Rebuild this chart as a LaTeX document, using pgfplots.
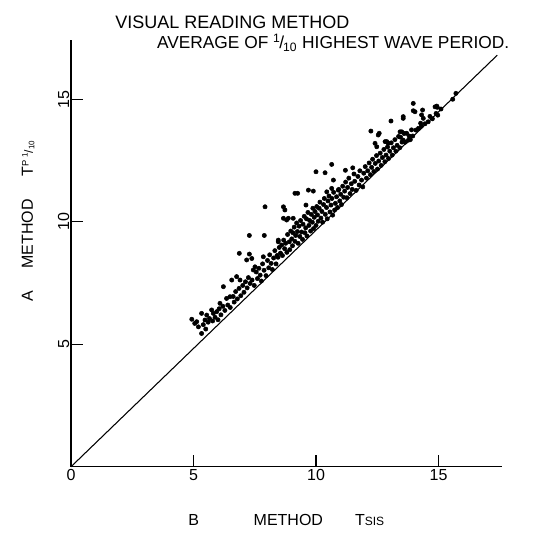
\documentclass[border=0pt]{standalone}
\usepackage{fontspec}
\setmainfont{Liberation Sans}
\usepackage{pgfplots}
\usepackage{pgfplotstable}
\pgfplotsset{compat=1.18}
\pgfplotstableread{
x y
4.93 6.02
5.05 5.85
5.13 5.92
5.20 5.71
5.33 5.44
5.33 6.26
5.40 5.80
5.47 5.99
5.54 6.19
5.50 5.62
5.60 5.90
5.65 6.05
5.74 6.40
5.78 5.95
5.81 6.26
5.88 6.10
5.95 6.33
6.00 6.00
6.05 6.45
6.08 6.67
6.12 6.20
6.20 6.55
6.22 7.35
6.28 6.38
6.35 6.87
6.40 6.60
6.49 6.94
6.50 6.50
6.56 7.62
6.62 6.95
6.66 6.72
6.72 7.15
6.76 7.76
6.79 6.85
6.86 7.28
6.90 7.62
6.93 6.98
7.01 7.40
7.06 7.12
7.12 7.55
7.17 8.44
7.19 7.30
7.24 7.72
7.31 7.48
7.38 8.50
7.39 7.62
7.44 8.03
7.48 7.40
7.51 8.16
7.56 7.95
7.61 7.68
7.67 8.10
7.72 7.82
7.77 7.58
7.85 8.57
7.82 8.28
7.88 8.02
7.96 7.80
8.02 8.42
8.07 8.12
8.11 8.65
8.17 8.30
8.22 8.05
8.27 8.52
8.32 8.82
8.37 8.28
8.41 8.62
6.87 8.71
7.28 8.68
7.28 9.44
7.89 9.44
7.92 10.61
8.46 9.18
8.46 9.25
8.67 10.14
8.67 10.61
8.73 10.48
8.80 10.07
9.14 11.16
9.25 11.16
9.59 10.68
9.69 11.29
9.89 11.25
10.00 12.04
10.37 12.00
10.64 12.34
10.71 11.70
10.44 11.22
10.64 11.36
10.91 11.29
11.20 12.10
11.50 12.20
8.45 8.55
8.50 8.95
8.55 8.72
8.60 9.05
8.63 8.62
8.68 9.25
8.72 8.90
8.76 9.12
8.81 8.75
8.84 9.48
8.87 10.14
8.91 9.18
8.93 8.86
8.97 9.62
9.01 9.30
9.04 9.02
9.07 10.14
9.06 9.55
9.11 9.78
9.14 9.20
9.17 9.44
9.21 9.95
9.24 9.60
9.27 9.12
9.31 9.82
9.34 9.40
9.37 10.05
9.41 9.58
9.45 9.28
9.47 9.90
9.52 10.22
9.55 9.55
9.58 9.75
9.61 10.12
9.63 9.42
9.67 10.38
9.71 9.85
9.74 10.05
9.78 9.62
9.81 10.30
9.85 9.98
9.87 10.55
9.90 9.72
9.93 10.18
9.96 10.42
10.00 9.85
10.03 10.62
10.06 10.28
10.09 10.02
10.13 10.55
10.16 10.80
10.20 10.15
10.24 10.42
10.27 9.98
10.31 10.70
10.34 10.95
10.38 10.30
10.43 10.58
10.46 10.12
10.49 10.85
10.53 11.05
10.57 10.40
10.61 10.68
10.65 10.95
10.68 10.27
10.72 11.20
10.76 10.48
10.79 10.75
10.84 11.02
10.88 10.58
10.93 11.32
10.97 10.85
11.01 11.12
11.04 10.70
11.09 11.45
11.13 11.00
11.17 11.25
11.21 11.62
11.26 10.98
11.29 11.40
11.34 11.78
11.39 11.15
11.44 11.55
11.48 11.32
11.55 11.95
11.58 11.65
11.64 11.28
11.71 11.85
11.76 11.50
11.79 12.08
11.86 11.70
11.91 11.42
11.95 11.98
12.01 12.25
12.06 11.78
12.11 12.08
12.17 12.40
12.22 11.92
12.27 12.22
12.31 12.55
12.36 12.05
12.42 12.38
12.47 12.70
12.51 12.15
12.56 12.48
12.62 12.80
12.66 12.30
12.71 12.62
12.77 12.95
12.81 12.45
12.86 12.72
12.92 13.05
12.96 12.58
13.01 12.88
13.07 13.22
13.11 12.72
13.16 13.02
13.22 13.35
13.26 12.88
13.31 13.12
13.37 13.48
13.42 13.02
13.45 13.45
13.51 13.25
13.56 13.33
13.60 13.60
13.65 13.25
13.70 13.61
13.77 13.33
13.80 13.50
13.85 13.35
13.90 13.75
13.95 13.50
14.08 13.74
14.18 13.81
14.27 14.02
14.30 13.90
14.38 14.22
14.45 14.00
14.58 14.08
14.65 14.30
14.75 14.20
14.90 14.42
14.97 14.35
15.10 14.60
15.58 15.00
15.71 15.24
12.24 13.70
12.54 13.54
12.82 13.27
12.95 13.20
12.41 13.20
12.48 13.06
12.58 13.61
12.89 13.27
13.43 13.67
13.06 14.11
13.56 14.29
13.56 14.22
13.97 14.83
13.97 14.53
14.04 14.49
14.31 14.36
14.35 14.56
14.86 14.69
14.95 14.67
14.93 14.72
13.50 13.67
}\scatterdata
\begin{document}
\begin{tikzpicture}
\begin{axis}[
  at={(0pt,0pt)}, anchor=south west,
  x=18.375pt, y=18.375pt,
  xmin=0, xmax=17.6, ymin=0, ymax=17.4,
  axis x line=bottom, axis y line=left,
  axis line style={-, line width=1.1pt},
  clip=false,
  xtick={0,5,10,15}, ytick={5,10,15},
  tick align=inside, major tick length=9pt,
  tick style={line width=0.9pt, black},
  /pgf/number format/assume math mode=true,
  ticklabel style={font=\fontsize{12}{12}\selectfont},
  yticklabel style={rotate=90, anchor=south, inner sep=1pt},
  xticklabel style={inner sep=2pt},
]
\addplot[no marks, line width=0.8pt, black] coordinates {(0,0) (17.4,16.8)};
\addplot[only marks, mark=*, mark size=1.6pt, black] table[x=x, y=y] {\scatterdata};
\node[anchor=west, font=\fontsize{13.5}{14}\selectfont, inner sep=0pt] at (axis cs:1.8,18.13) {VISUAL READING METHOD};
\node[anchor=west, font=\fontsize{13}{14}\selectfont, inner sep=0pt] at (axis cs:3.5,17.31) {AVERAGE OF \textsuperscript{1}\kern-0.08em/\kern-0.05em\textsubscript{10} HIGHEST WAVE PERIOD.};
\node[anchor=west, font=\fontsize{12}{12}\selectfont, inner sep=0pt] at (axis cs:4.78,-2.18) {B\hspace{41pt}METHOD\hspace{24pt}T{\small SIS}};
\node[anchor=west, rotate=90, font=\fontsize{12}{12}\selectfont, inner sep=0pt] at (axis cs:-1.755,6.72) {A\hspace{17pt}METHOD\hspace{17pt}T\raisebox{0.5ex}{\scriptsize P}\,{\small\textsuperscript{1}\kern-0.05em/\textsubscript{10}}};
\end{axis}
\pgfresetboundingbox
\path (-53.25pt,-49.7pt) rectangle (357.75pt,350.05pt);
\end{tikzpicture}
\end{document}
